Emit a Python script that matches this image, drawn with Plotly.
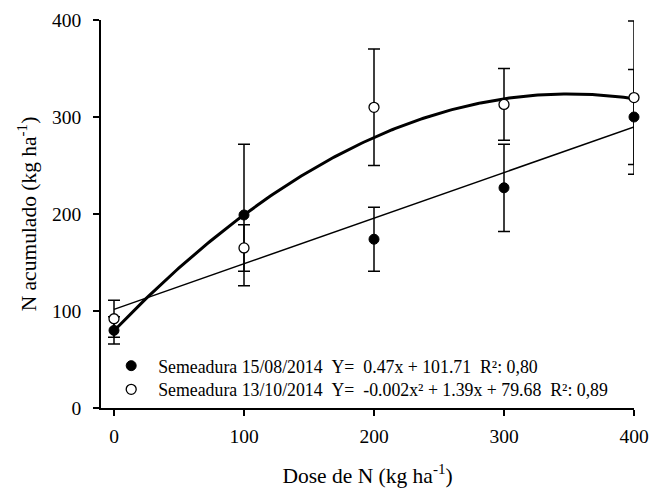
import numpy as np
import plotly.graph_objects as go

# Data
dose = [0, 100, 200, 300, 400]
n_1508 = [80, 199, 174, 227, 300]
err_1508 = [14, 73, 33, 45, 49]
n_1310 = [92, 165, 310, 313, 320]
err_1310 = [19, 24, 60, 37, 79]

# fitted coefficients (unrounded estimates of the displayed equations)
lin_coef = [0.47, 101.71]             # slope, intercept
quad_coef = [-0.00199, 1.394, 79.68]  # a, b, c

name_1508 = "Semeadura 15/08/2014\u00a0\u00a0Y=\u00a0\u00a00.47x + 101.71\u00a0\u00a0R²: 0,80"
name_1310 = "Semeadura 13/10/2014\u00a0\u00a0Y=\u00a0\u00a0-0.002x² + 1.39x + 79.68\u00a0\u00a0R²: 0,89"

xf = np.linspace(0, 400, 201)
y_lin = lin_coef[0] * xf + lin_coef[1]
y_quad = quad_coef[0] * xf**2 + quad_coef[1] * xf + quad_coef[2]

FONT = "Liberation Serif"

fig = go.Figure()
fig.add_trace(go.Scatter(x=xf, y=y_quad, mode="lines", cliponaxis=False,
                         line=dict(color="black", width=3), showlegend=False, hoverinfo="skip"))
fig.add_trace(go.Scatter(x=xf, y=y_lin, mode="lines", cliponaxis=False,
                         line=dict(color="black", width=1.5), showlegend=False, hoverinfo="skip"))
fig.add_trace(go.Scatter(x=dose, y=n_1508, mode="markers", name=name_1508, cliponaxis=False,
                         legend="legend",
                         marker=dict(color="black", size=10, line=dict(color="black", width=1)),
                         error_y=dict(type="data", array=err_1508, color="black", thickness=1.5, width=6)))
fig.add_trace(go.Scatter(x=dose, y=n_1310, mode="markers", name=name_1310, cliponaxis=False,
                         legend="legend2",
                         marker=dict(color="white", size=10, line=dict(color="black", width=1.3)),
                         error_y=dict(type="data", array=err_1310, color="black", thickness=1.5, width=6)))

leg_common = dict(x=0.006, xanchor="left", yanchor="middle",
                  bgcolor="rgba(0,0,0,0)", font=dict(family=FONT, size=17.8, color="black"),
                  itemwidth=44)

fig.update_layout(
    width=660, height=489,
    margin=dict(l=101, r=26, t=20, b=81),
    paper_bgcolor="white", plot_bgcolor="white",
    font=dict(family=FONT, color="black", size=19.5),
    legend=dict(y=0.108, **leg_common),
    legend2=dict(y=0.047, **leg_common),
    xaxis=dict(range=[-10, 400], tickvals=[0, 100, 200, 300, 400], automargin=False,
               showline=True, linecolor="black", linewidth=1.5,
               ticks="outside", ticklen=6, tickwidth=1.5, tickcolor="black",
               showgrid=False, zeroline=False, ticklabelstandoff=4,
               tickfont=dict(family=FONT, size=19.5),
               title=dict(text="Dose de N (kg ha<sup>-1</sup>)", font=dict(family=FONT, size=21.5), standoff=22)),
    yaxis=dict(range=[0, 400], tickvals=[0, 100, 200, 300, 400], automargin=False,
               showline=True, linecolor="black", linewidth=1.5,
               ticks="outside", ticklen=6, tickwidth=1.5, tickcolor="black",
               showgrid=False, zeroline=False, ticklabelstandoff=8,
               tickfont=dict(family=FONT, size=19.5),
               title=dict(text="N acumulado (kg ha<sup>-1</sup>)", font=dict(family=FONT, size=21.5), standoff=10)),
)

fig.write_html("out.html")
